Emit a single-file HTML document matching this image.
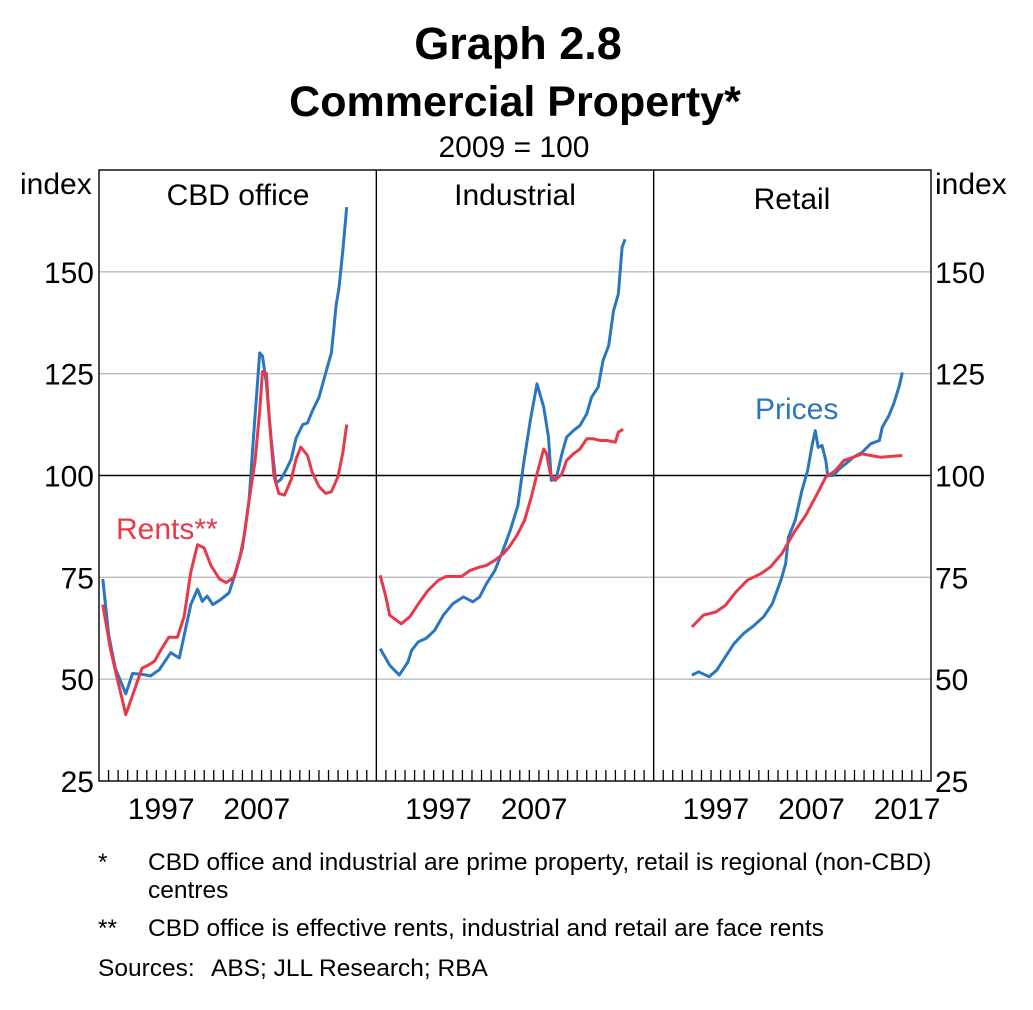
<!DOCTYPE html>
<html><head><meta charset="utf-8"><style>
body{margin:0;background:#fff;}
svg text{font-family:"Liberation Sans",Arial,sans-serif;}
</style></head><body>
<svg id="chart" width="1033" height="1005" viewBox="0 0 1033 1005" xmlns="http://www.w3.org/2000/svg">
<text x="518" y="59" text-anchor="middle" font-size="45" font-weight="bold">Graph 2.8</text>
<text x="515" y="116" text-anchor="middle" font-size="43" font-weight="bold">Commercial Property*</text>
<text x="514" y="157" text-anchor="middle" font-size="30">2009 = 100</text>
<text x="20" y="194" font-size="30">index</text>
<text x="935" y="194" font-size="30">index</text>
<g id="grid"></g>
<g id="series"></g>
<g id="frame"></g>
<text x="238" y="205" text-anchor="middle" font-size="30">CBD office</text>
<text x="515" y="205" text-anchor="middle" font-size="30">Industrial</text>
<text x="792" y="209" text-anchor="middle" font-size="30">Retail</text>
<text x="116" y="539" font-size="30" fill="#e8394a">Rents**</text>
<text x="755" y="419" font-size="30" fill="#2a77c0">Prices</text>
<g font-size="24.5">
<text x="98" y="870">*</text>
<text x="148" y="870">CBD office and industrial are prime property, retail is regional (non-CBD)</text>
<text x="148" y="898">centres</text>
<text x="98" y="936">**</text>
<text x="148" y="936">CBD office is effective rents, industrial and retail are face rents</text>
<text x="98" y="976">Sources:</text>
<text x="211" y="976">ABS; JLL Research; RBA</text>
</g>
</svg>
<script>
const yTicks=[25,50,75,100,125,150];
const xLabelYears=[1997,2007,2017];
const panelNames=["cbd-office","industrial","retail"];
const cbdPriceYears=[1991.4,1992.0,1992.7,1993.8,1994.5,1995.5,1996.4,1997.3,1998.5,1999.4,2000.6,2001.3,2001.8,2002.3,2002.9,2003.7,2004.6,2005.3,2006.0,2006.7,2007.2,2007.8,2008.1,2008.5,2009.0,2009.5,2010.0,2010.5,2011.1,2011.6,2012.3,2012.8,2013.3,2014.0,2014.7,2015.3,2015.8,2016.1,2016.5,2016.9];
const cbdPrices=[74.6,61,52.7,46.4,51.4,51.2,50.8,52.3,56.5,55.2,68.3,72.1,69.1,70.4,68.3,69.5,71.2,76.3,82.2,93.9,110.8,130.1,129.3,122.6,109.1,98.1,99,101.1,104,109.1,112.5,112.9,115.8,119.2,125.1,130.1,141.9,146.1,155.4,165.9];
const cbdRentYears=[1991.4,1992.2,1992.9,1993.8,1994.5,1995.5,1996.2,1996.8,1997.5,1998.3,1999.2,1999.9,2000.6,2001.3,2002.0,2002.7,2003.6,2004.3,2005.1,2005.7,2006.2,2006.7,2007.3,2007.8,2008.1,2008.5,2008.8,2009.3,2009.8,2010.4,2011.1,2011.6,2012.1,2012.8,2013.3,2014.0,2014.7,2015.3,2016.0,2016.5,2016.9];
const cbdRents=[68.3,57.3,50.2,41.3,46,52.7,53.5,54.4,57.3,60.3,60.3,65.3,76.3,83,82.2,77.9,74.6,73.7,75,79.6,85.5,93.9,103.2,115.8,125.5,125.1,114.1,99.8,95.6,95.2,99,104,107,104.9,100.7,97.3,95.6,96,99.8,105.7,112.5];
const indPriceYears=[1991.4,1992.4,1993.4,1994.3,1994.7,1995.4,1996.2,1997.1,1998.0,1999.0,2000.1,2001.1,2001.8,2002.5,2003.4,2004.3,2005.0,2005.8,2006.4,2007.1,2007.8,2008.5,2009.0,2009.3,2009.8,2010.4,2010.9,2011.6,2012.3,2013.0,2013.5,2014.2,2014.7,2015.3,2015.8,2016.3,2016.7,2017.0];
const indPrices=[57.5,53.4,51,54.2,57.1,59.2,60,62,65.7,68.5,70.2,69,70.2,73.4,76.7,82,86.5,92.6,102.9,113.5,122.5,116.8,109.4,98.8,99.2,105.3,109.4,111,112.3,115.1,119.2,121.7,128.2,131.9,140.4,144.5,156,158];
const indRentYears=[1991.4,1992.0,1992.4,1993.6,1994.5,1995.4,1996.4,1997.5,1998.3,1999.9,2000.8,2001.8,2002.5,2003.4,2004.3,2005.0,2005.7,2006.5,2007.2,2007.8,2008.5,2008.8,2009.2,2009.7,2010.4,2010.9,2011.6,2012.3,2013.0,2013.7,2014.4,2015.1,2016.0,2016.3,2016.8];
const indRents=[75.5,70.2,65.7,63.6,65.3,68.5,71.8,74.3,75.2,75.2,76.7,77.5,77.9,79.2,80.8,82.8,85.3,89,94.7,100.4,106.5,105.3,100.4,98.8,100.4,103.7,105.3,106.5,109,109,108.6,108.6,108.2,110.6,111.4];
const retPriceYears=[1995.0,1995.7,1996.8,1997.6,1998.5,1999.4,2000.4,2001.5,2002.5,2003.4,2004.3,2004.8,2005.1,2005.8,2006.5,2007.1,2007.6,2007.9,2008.2,2008.6,2009.0,2009.2,2009.8,2010.4,2011.1,2011.9,2012.8,2013.7,2014.6,2014.9,2015.6,2016.1,2016.7,2017.0];
const retPrices=[51,51.8,50.6,52.2,55.5,58.7,61.2,63.2,65.3,68.5,74.3,78.3,84.9,89,96.3,101.2,107.8,111,106.9,107.4,103.7,100,100,101.6,102.9,104.5,105.7,107.8,108.6,111.8,114.7,117.6,122.1,125.3];
const retRentYears=[1995.0,1996.2,1997.5,1998.5,1999.6,2000.8,2002.2,2003.2,2004.4,2005.7,2006.9,2008.1,2009.0,2010.0,2010.9,2011.9,2012.8,2013.7,2014.7,2017.0];
const retRents=[62.8,65.7,66.5,68.1,71.4,74.3,75.9,77.5,80.8,86.1,90.2,95.5,99.6,101.2,103.7,104.5,105.3,104.9,104.5,104.9];

const NS="http://www.w3.org/2000/svg";
const L=99,R=931,T=170,B=781,PW=(R-L)/3,Y0=1991,Y1=2020;
function yScale(v){return B-(v-25)*(B-T)/150;}
function xScale(p,yr){return L+p*PW+(yr-Y0)*PW/(Y1-Y0);}
function mk(tag,parent){const e=document.createElementNS(NS,tag);document.getElementById(parent).appendChild(e);return e;}
yTicks.forEach(v=>{
  if(v!==25){
    const g=mk("line","grid");
    
    
    g.setAttribute("x1",L);g.setAttribute("x2",R);g.setAttribute("y1",yScale(v));g.setAttribute("y2",yScale(v));
    g.setAttribute("stroke",v===100?"#000":"#bdbdbd");g.setAttribute("stroke-width","1.4");
  }
  [[94,"end"],[935,"start"]].forEach(([x,a],i)=>{
    const t=mk("text","grid");
    
    
    t.setAttribute("x",x);t.setAttribute("y",yScale(v)+11);t.setAttribute("text-anchor",a);t.setAttribute("font-size","30");t.textContent=v;
  });
});
const seriesList=[[0,cbdPriceYears,cbdPrices,"#2a77c0","cbd-prices"],[0,cbdRentYears,cbdRents,"#e8394a","cbd-rents"],
[1,indPriceYears,indPrices,"#2a77c0","industrial-prices"],[1,indRentYears,indRents,"#e8394a","industrial-rents"],
[2,retPriceYears,retPrices,"#2a77c0","retail-prices"],[2,retRentYears,retRents,"#e8394a","retail-rents"]];
seriesList.forEach(([p,xs,vs,c,n])=>{
  const pl=mk("polyline","series");
  
  
  pl.setAttribute("points",xs.map((x,i)=>xScale(p,x).toFixed(1)+","+yScale(vs[i]).toFixed(1)).join(" "));
  pl.setAttribute("fill","none");pl.setAttribute("stroke",c);pl.setAttribute("stroke-width","3");pl.setAttribute("stroke-linejoin","round");
});
const fr=mk("rect","frame");


fr.setAttribute("x",L);fr.setAttribute("y",T);fr.setAttribute("width",R-L);fr.setAttribute("height",B-T);fr.setAttribute("fill","none");fr.setAttribute("stroke","#000");fr.setAttribute("stroke-width","1.4");
for(let p=0;p<3;p++){
  if(p>0){const d=mk("line","frame");
    
    
    d.setAttribute("x1",L+p*PW);d.setAttribute("x2",L+p*PW);d.setAttribute("y1",T);d.setAttribute("y2",B);d.setAttribute("stroke","#000");d.setAttribute("stroke-width","1.4");}
  for(let yr=Y0+1;yr<Y1;yr++){
    const t=mk("line","frame");
    
    
    const x=xScale(p,yr);t.setAttribute("x1",x);t.setAttribute("x2",x);t.setAttribute("y1",B);t.setAttribute("y2",B-11);t.setAttribute("stroke","#000");t.setAttribute("stroke-width","1.3");
  }
  xLabelYears.forEach(yr=>{
    if(yr===2017&&p<2)return;
    const t=mk("text","frame");
    
    
    t.setAttribute("x",xScale(p,yr+0.5));t.setAttribute("y",819);t.setAttribute("text-anchor","middle");t.setAttribute("font-size","30");t.textContent=yr;
  });
}
</script>
</body></html>
